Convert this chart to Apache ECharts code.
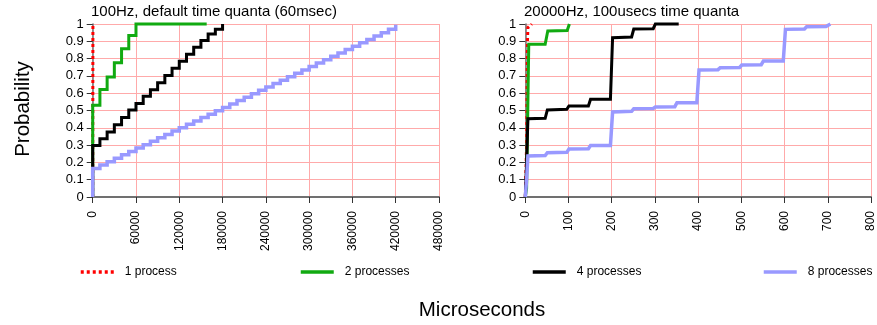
<!DOCTYPE html>
<html>
<head>
<meta charset="utf-8">
<script src="https://cdn.jsdelivr.net/npm/echarts@6/dist/echarts.min.js"></script>
<style>
html,body{margin:0;padding:0;background:#fff;}
#chart{width:877px;height:325px;}
</style>
</head>
<body>
<div id="chart"></div>
<script>
// ---------- Titles / labels ----------
const leftTitle = "100Hz, default time quanta (60msec)";
const rightTitle = "20000Hz, 100usecs time quanta";
const yAxisTitle = "Probability";
const xAxisTitle = "Microseconds";
const seriesNames = ["1 process", "2 processes", "4 processes", "8 processes"];

// ---------- Tick labels ----------
const leftXTicks = [0, 60000, 120000, 180000, 240000, 300000, 360000, 420000, 480000];
const rightXTicks = [0, 100, 200, 300, 400, 500, 600, 700, 800];
const yTicks = [0, 0.1, 0.2, 0.3, 0.4, 0.5, 0.6, 0.7, 0.8, 0.9, 1];

// ---------- Left panel: 100Hz (step CDFs) ----------
const hz100_p1_x = [0, 300];
const hz100_p1_y = [0, 1.0];

const hz100_p2_x = [0, 0, 10000, 20000, 30000, 40000, 50000, 60000, 158000];
const hz100_p2_y = [0, 0.53, 0.622, 0.694, 0.776, 0.857, 0.934, 1.0, 1.0];

const hz100_p4_x = [0, 0, 10000, 20000, 30000, 40000, 50000, 60000, 70000, 80000, 90000,
  100000, 110000, 120000, 130000, 140000, 150000, 160000, 170000, 180000];
const hz100_p4_y = [0, 0.297, 0.337, 0.376, 0.418, 0.460, 0.503, 0.541, 0.582, 0.620, 0.661,
  0.703, 0.744, 0.784, 0.825, 0.865, 0.905, 0.942, 0.969, 1.0];

const hz100_p8_x = [0, 0, 10000, 20000, 30000, 40000, 50000, 60000, 70000, 80000, 90000,
  100000, 110000, 120000, 130000, 140000, 150000, 160000, 170000, 180000, 190000,
  200000, 210000, 220000, 230000, 240000, 250000, 260000, 270000, 280000, 290000,
  300000, 310000, 320000, 330000, 340000, 350000, 360000, 370000, 380000, 390000,
  400000, 410000, 420000];
const hz100_p8_y = [0, 0.165, 0.185, 0.204, 0.224, 0.244, 0.263, 0.283, 0.302, 0.322, 0.342,
  0.361, 0.381, 0.401, 0.420, 0.440, 0.459, 0.479, 0.499, 0.518, 0.538,
  0.558, 0.577, 0.597, 0.617, 0.636, 0.656, 0.675, 0.695, 0.715, 0.734,
  0.754, 0.774, 0.793, 0.813, 0.832, 0.852, 0.872, 0.891, 0.911, 0.931,
  0.950, 0.970, 0.995];

// ---------- Right panel: 20000Hz ----------
const us20k_p1_x = [0, 3, 5, 6, 15];
const us20k_p1_y = [0, 0.3, 0.9, 0.98, 1.0];

const us20k_p2_x = [0, 3, 8, 46, 52, 97, 102];
const us20k_p2_y = [0, 0.05, 0.883, 0.883, 0.96, 0.962, 1.0];

const us20k_p4_x = [0, 3, 6, 46, 51, 96, 101, 146, 151, 197, 202, 246, 251, 296, 301, 355];
const us20k_p4_y = [0, 0.2, 0.452, 0.455, 0.503, 0.507, 0.526, 0.526, 0.565, 0.565, 0.921, 0.925, 0.971, 0.973, 1.0, 1.0];

const us20k_p8_x = [0, 3, 6, 46, 51, 96, 101, 146, 151, 197, 202, 246, 251, 296, 301, 346,
  351, 397, 402, 446, 451, 496, 501, 546, 551, 597, 602, 646, 651, 696, 706];
const us20k_p8_y = [0, 0.1, 0.237, 0.24, 0.256, 0.258, 0.277, 0.279, 0.297, 0.297, 0.491, 0.495, 0.51, 0.512, 0.52, 0.522,
  0.545, 0.545, 0.734, 0.736, 0.747, 0.749, 0.763, 0.765, 0.786, 0.786, 0.969, 0.971, 0.984, 0.986, 1.0];

// ---------- Build ----------
const FONT = "'Liberation Sans', Arial, Helvetica, sans-serif";
const zip = (xs, ys) => xs.map((x, i) => [x, ys[i]]);

const colors = ["#ff0000", "#11aa11", "#000000", "#9999ff"];
const widths = [3, 3, 3, 3.5];

function lineStyleFor(i) {
  return {
    color: colors[i],
    width: widths[i],
    type: i === 0 ? [3, 3] : 'solid',
    cap: 'butt',
    join: 'miter'
  };
}

function mkSeries(name, i, gi, xs, ys, step) {
  return {
    name: name,
    type: 'line',
    xAxisIndex: gi,
    yAxisIndex: gi,
    data: zip(xs, ys),
    step: step ? 'end' : false,
    symbol: 'none',
    showSymbol: false,
    clip: false,
    smooth: false,
    color: colors[i],
    lineStyle: lineStyleFor(i),
    emphasis: { disabled: true },
    silent: true
  };
}

const gridTop = 24, gridHeight = 173;

function xAxisFor(gi, ticks) {
  return {
    type: 'value',
    gridIndex: gi,
    min: ticks[0],
    max: ticks[ticks.length - 1],
    interval: ticks[1] - ticks[0],
    axisLine: { show: true, onZero: false, lineStyle: { color: '#707070', width: 2 } },
    axisTick: { show: true, length: 6, lineStyle: { color: '#333', width: 1 } },
    axisLabel: { rotate: 90, margin: 14, fontSize: 12, color: '#000', fontFamily: FONT,
      formatter: v => String(v) },
    splitLine: { show: true, lineStyle: { color: '#ffaaaa', width: 1 } }
  };
}

function yAxisFor(gi) {
  return {
    type: 'value',
    gridIndex: gi,
    min: yTicks[0],
    max: yTicks[yTicks.length - 1],
    interval: 0.1,
    axisLine: { show: true, onZero: false, lineStyle: { color: '#707070', width: 1.5 } },
    axisTick: { show: true, length: 6, lineStyle: { color: '#333', width: 1 } },
    axisLabel: { margin: 9, fontSize: 13, color: '#000', fontFamily: FONT,
      formatter: v => String(Math.round(v * 10) / 10) },
    splitLine: { show: true, lineStyle: { color: '#ffaaaa', width: 1 } }
  };
}

const legendXs = [79, 299, 531, 762];
const legends = seriesNames.map((n, i) => ({
  data: [n],
  left: legendXs[i],
  top: 266,
  orient: 'horizontal',
  itemWidth: 33,
  itemHeight: 14,
  padding: 0,
  selectedMode: false,
  itemStyle: { opacity: 0 },
  lineStyle: { width: 3.5 },
  textStyle: { fontSize: 12, color: '#000', fontFamily: FONT, padding: [0, 0, 0, 6] }
}));

const option = {
  animation: false,
  backgroundColor: '#ffffff',
  title: [
    { text: leftTitle, left: 91, top: 4, padding: 0,
      textStyle: { fontSize: 15, fontWeight: 'normal', color: '#000', fontFamily: FONT } },
    { text: rightTitle, left: 524, top: 4, padding: 0,
      textStyle: { fontSize: 15, fontWeight: 'normal', color: '#000', fontFamily: FONT } }
  ],
  grid: [
    { left: 92.7, top: gridTop, width: 346.3, height: gridHeight },
    { left: 525.3, top: gridTop, width: 345.7, height: gridHeight }
  ],
  xAxis: [xAxisFor(0, leftXTicks), xAxisFor(1, rightXTicks)],
  yAxis: [yAxisFor(0), yAxisFor(1)],
  legend: legends,
  graphic: [
    { type: 'text', x: 23, y: 109, rotation: Math.PI / 2,
      style: { text: yAxisTitle, font: "20.5px " + FONT, fill: '#000', align: 'center', verticalAlign: 'middle' } },
    { type: 'text', x: 482, y: 310,
      style: { text: xAxisTitle, font: "20.5px " + FONT, fill: '#000', align: 'center', verticalAlign: 'middle' } }
  ],
  series: [
    mkSeries(seriesNames[0], 0, 0, hz100_p1_x, hz100_p1_y, true),
    mkSeries(seriesNames[1], 1, 0, hz100_p2_x, hz100_p2_y, true),
    mkSeries(seriesNames[2], 2, 0, hz100_p4_x, hz100_p4_y, true),
    mkSeries(seriesNames[3], 3, 0, hz100_p8_x, hz100_p8_y, true),
    mkSeries(seriesNames[0], 0, 1, us20k_p1_x, us20k_p1_y, false),
    mkSeries(seriesNames[1], 1, 1, us20k_p2_x, us20k_p2_y, false),
    mkSeries(seriesNames[2], 2, 1, us20k_p4_x, us20k_p4_y, false),
    mkSeries(seriesNames[3], 3, 1, us20k_p8_x, us20k_p8_y, false)
  ]
};

const chart = echarts.init(document.getElementById('chart'), null, { renderer: 'canvas' });
chart.setOption(option);
</script>
</body>
</html>
